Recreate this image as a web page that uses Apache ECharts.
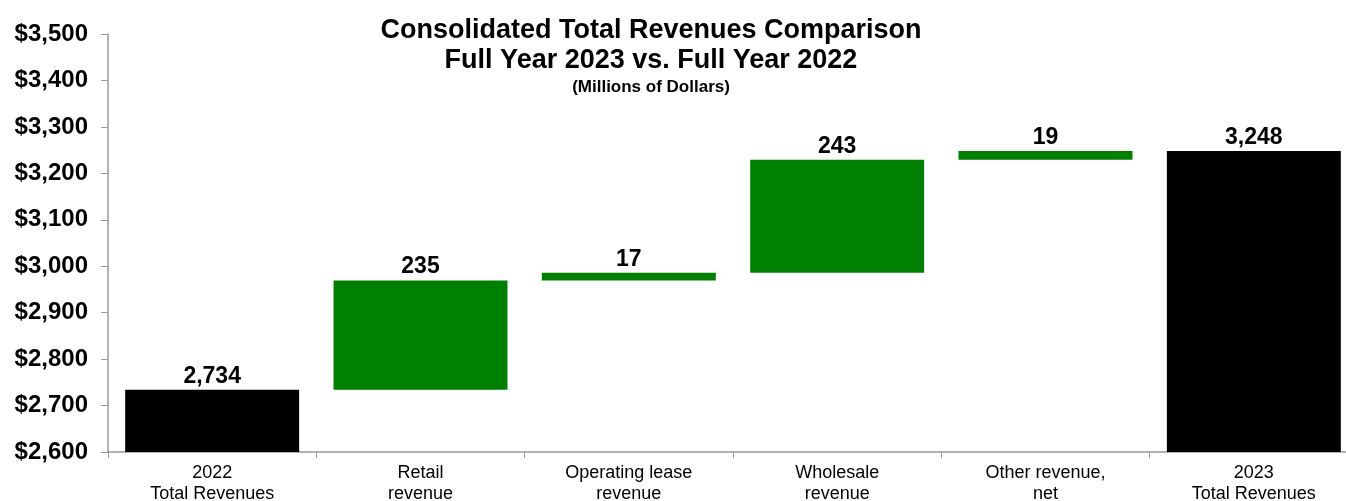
<!DOCTYPE html>
<html>
<head>
<meta charset="utf-8">
<script src="https://cdn.jsdelivr.net/npm/echarts@6/dist/echarts.min.js"></script>
<style>html,body{margin:0;padding:0;background:#fff}#c{width:1346px;height:501px}</style>
</head>
<body>
<div id="c"></div>
<script>
const categories = ['2022\nTotal Revenues', 'Retail\nrevenue', 'Operating lease\nrevenue', 'Wholesale\nrevenue', 'Other revenue,\nnet', '2023\nTotal Revenues'];
const startTotal = 2734;
const changes = [235, 17, 243, 19];
const endTotal = 3248;
const yTicks = { min: 2600, max: 3500, interval: 100 };

// Build waterfall series
const baseData = ['-'];
const changeData = ['-'];
const totalData = [startTotal];
let running = startTotal;
changes.forEach(c => {
  baseData.push(running);
  changeData.push(c);
  totalData.push('-');
  running += c;
});
baseData.push('-');
changeData.push('-');
totalData.push(endTotal);

const FONT = '"Liberation Sans", Arial, sans-serif';
const chart = echarts.init(document.getElementById('c'), null, { renderer: 'canvas' });
chart.setOption({
  animation: false,
  backgroundColor: '#fff',
  title: {
    text: 'Consolidated Total Revenues Comparison\nFull Year 2023 vs. Full Year 2022',
    subtext: '(Millions of Dollars)',
    left: 646, textAlign: 'center', top: 11,
    itemGap: 1,
    textStyle: { fontFamily: FONT, fontWeight: 'bold', fontSize: 27, color: '#000', lineHeight: 30 },
    subtextStyle: { fontFamily: FONT, fontWeight: 'bold', fontSize: 17, color: '#000', lineHeight: 20 }
  },
  grid: { left: 108, width: 1250, top: 34, bottom: 49, containLabel: false, outerBoundsMode: 'none' },
  xAxis: {
    type: 'category', data: categories,
    axisLine: { lineStyle: { color: '#999', width: 1.5 } },
    axisTick: { show: true, length: 6, lineStyle: { color: '#999' } },
    axisLabel: { fontFamily: FONT, fontSize: 18, color: '#000', lineHeight: 21, margin: 11, interval: 0 },
    splitLine: { show: false }
  },
  yAxis: {
    type: 'value', min: yTicks.min, max: yTicks.max, interval: yTicks.interval,
    axisLine: { show: true, lineStyle: { color: '#999', width: 1.5 } },
    axisTick: { show: true, length: 7, lineStyle: { color: '#999' } },
    splitLine: { show: false },
    axisLabel: {
      fontFamily: FONT, fontSize: 24, fontWeight: 'bold', color: '#000', margin: 20,
      formatter: v => '$' + v.toLocaleString('en-US')
    }
  },
  series: [
    {
      name: 'base', type: 'bar', stack: 'w', data: baseData,
      itemStyle: { color: 'transparent' }, barCategoryGap: '16.5%', silent: true
    },
    {
      name: 'change', type: 'bar', stack: 'w', data: changeData,
      itemStyle: { color: '#008000' },
      label: {
        show: true, position: 'top', distance: 2,
        fontFamily: FONT, fontSize: 23, fontWeight: 'bold', color: '#000',
        formatter: p => p.value.toLocaleString('en-US')
      }
    },
    {
      name: 'total', type: 'bar', stack: 'w', data: totalData,
      itemStyle: { color: '#000' },
      label: {
        show: true, position: 'top', distance: 2,
        fontFamily: FONT, fontSize: 23, fontWeight: 'bold', color: '#000',
        formatter: p => p.value.toLocaleString('en-US')
      }
    }
  ]
});
</script>
</body>
</html>
